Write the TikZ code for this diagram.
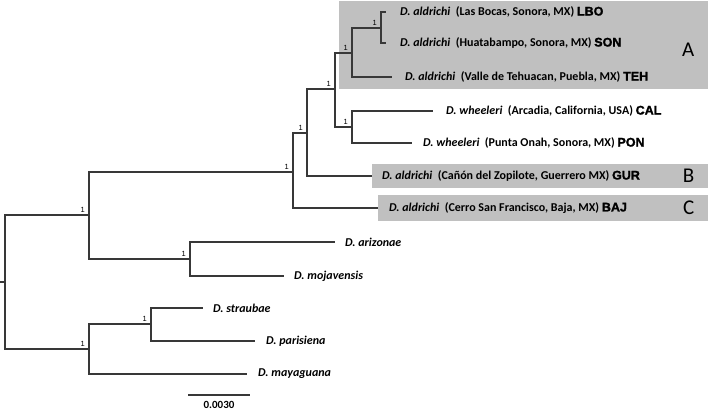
\documentclass[tikz,border=0pt]{standalone}
\usepackage{fontspec}
\setmainfont{Carlito}
\newfontfamily\codefont{Liberation Sans}[BoldFeatures={FakeBold=1.6}]
\newfontfamily\supfont{Liberation Sans}
\usetikzlibrary{positioning}
\definecolor{cladegray}{RGB}{192,192,192}
\definecolor{branchgray}{RGB}{56,56,56}
\newcommand{\spname}[1]{\textit{#1}}
\newcommand{\popcode}[1]{{\codefont\bfseries\fontsize{12.5}{14}\selectfont #1}}
\tikzset{%
  % Specifications for style of the tree
  branch/.style = {draw=branchgray, line width=1.2pt},
  leaf/.style = {inner sep=0pt, font=\bfseries\fontsize{12}{14}\selectfont},
  support/.style = {anchor=south east, inner sep=1pt, xshift=-3pt, yshift=1.5pt,
                    font=\supfont\fontsize{7.5}{8}\selectfont},
  clade/.style = {fill=cladegray, inner sep=0pt, anchor=north west},
  cladename/.style = {inner sep=0pt, font=\fontsize{21}{24}\selectfont},
  scalelbl/.style = {inner sep=1pt, font=\bfseries\fontsize{11}{12}\selectfont}
}

\begin{document}
\begin{tikzpicture}[x=1pt, y=-1pt,
node distance=11pt, % gap between branch tip and name
]
  \useasboundingbox (0,0) rectangle (709,412);

  % grey boxes of the three groups
  \node (cladeA) [clade, minimum width=369pt, minimum height=88pt] at (339,1) {};
  \node (cladeB) [clade, minimum width=336pt, minimum height=24pt] at (372,164) {};
  \node (cladeC) [clade, minimum width=330pt, minimum height=26pt] at (378,195) {};
  \node (nameA) [cladename, left=14pt of cladeA.east, yshift=-5pt] {A};
  \node (nameB) [cladename, left=14pt of cladeB.east] {B};
  \node (nameC) [cladename, left=14pt of cladeC.east] {C};

  % inner nodes
  \coordinate (stub) at (0,282);
  \coordinate (root) at (5,282);
  \coordinate (x1) at (89,215);
  \coordinate (xl) at (89,349);
  \coordinate (x2) at (293,172);
  \coordinate (xar) at (190,259);
  \coordinate (xst) at (151,324);
  \coordinate (x3) at (307,133);
  \coordinate (x4) at (335,89);
  \coordinate (xa) at (352,53);
  \coordinate (xw) at (352,127);
  \coordinate (xls) at (381,28);

  % tips
  \coordinate (tlbo) at (386,12);
  \coordinate (tson) at (386,43);
  \coordinate (tteh) at (392,77);
  \coordinate (tcal) at (433,111);
  \coordinate (tpon) at (412,143);
  \coordinate (tgur) at (372,176);
  \coordinate (tbaj) at (378,208);
  \coordinate (tari) at (335,242);
  \coordinate (tmoj) at (284,276);
  \coordinate (tstr) at (203,308);
  \coordinate (tpar) at (255,341);
  \coordinate (tmay) at (247,374);

  \draw [branch] (stub) -- (root);
  \draw [branch] (root) |- (x1) (root) |- (xl);
  \draw [branch] (x1) |- (x2) (x1) |- (xar);
  \draw [branch] (xl) |- (xst) (xl) |- (tmay);
  \draw [branch] (xst) |- (tstr) (xst) |- (tpar);
  \draw [branch] (xar) |- (tari) (xar) |- (tmoj);
  \draw [branch] (x2) |- (x3) (x2) |- (tbaj);
  \draw [branch] (x3) |- (x4) (x3) |- (tgur);
  \draw [branch] (x4) |- (xa) (x4) |- (xw);
  \draw [branch] (xa) |- (xls) (xa) |- (tteh);
  \draw [branch] (xls) |- (tlbo) (xls) |- (tson);
  \draw [branch] (xw) |- (tcal) (xw) |- (tpon);

  % posterior support
  \node (s1) [support] at (x1) {1};
  \node (s2) [support] at (xl) {1};
  \node (s3) [support] at (x2) {1};
  \node (s4) [support] at (xar) {1};
  \node (s5) [support] at (xst) {1};
  \node (s6) [support] at (x3) {1};
  \node (s7) [support] at (x4) {1};
  \node (s8) [support] at (xa) {1};
  \node (s9) [support] at (xw) {1};
  \node (s10) [support] at (xls) {1};

  % names of the tips
  \node (lbo) [leaf, right=14pt of tlbo] {\spname{D. aldrichi}\ \ (Las Bocas, Sonora, MX) \popcode{LBO}};
  \node (son) [leaf, right=14pt of tson] {\spname{D. aldrichi}\ \ (Huatabampo, Sonora, MX) \popcode{SON}};
  \node (teh) [leaf, right=13pt of tteh] {\spname{D. aldrichi}\ \ (Valle de Tehuacan, Puebla, MX) \popcode{TEH}};
  \node (cal) [leaf, right=13pt of tcal] {\spname{D. wheeleri}\ \ (Arcadia, California, USA) \popcode{CAL}};
  \node (pon) [leaf, right=of tpon] {\spname{D. wheeleri}\ \ (Punta Onah, Sonora, MX) \popcode{PON}};
  \node (gur) [leaf, right=10pt of tgur] {\spname{D. aldrichi}\ \ (Cañón del Zopilote, Guerrero MX) \popcode{GUR}};
  \node (baj) [leaf, right=of tbaj] {\spname{D. aldrichi}\ \ (Cerro San Francisco, Baja, MX) \popcode{BAJ}};
  \node (ari) [leaf, right=10pt of tari] {\spname{D. arizonae}};
  \node (moj) [leaf, right=10pt of tmoj] {\spname{D. mojavensis}};
  \node (str) [leaf, right=10pt of tstr] {\spname{D. straubae}};
  \node (par) [leaf, right=of tpar] {\spname{D. parisiena}};
  \node (may) [leaf, right=of tmay] {\spname{D. mayaguana}};

  % scale bar
  \coordinate (sbl) at (188,395);
  \coordinate (sbr) at (250,395);
  \draw [branch] (sbl) -- node (scale) [scalelbl, below=5pt] {0.0030} (sbr);
\end{tikzpicture}
\end{document}
